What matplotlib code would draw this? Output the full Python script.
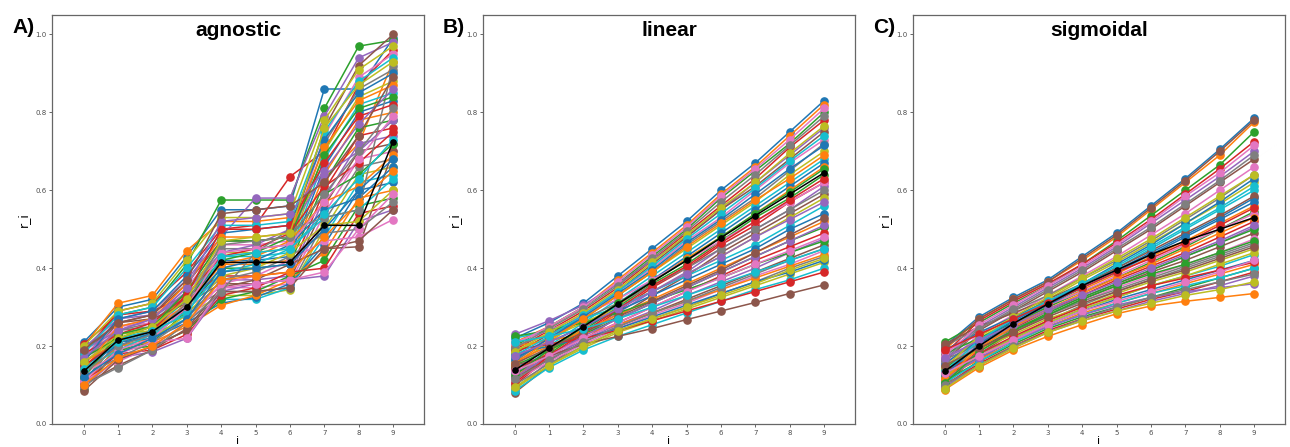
import matplotlib
matplotlib.use('Agg')
import matplotlib.pyplot as plt

steps = list(range(10))
xtick_labels = [str(i) for i in steps]
ytick_vals = [0.0, 0.2, 0.4, 0.6, 0.8, 1.0]
panel_titles = ['agnostic', 'linear', 'sigmoidal']
panel_letters = ['A)', 'B)', 'C)']

# panel A: agnostic, step-like curves
agnostic_runs = [
    [0.21, 0.30, 0.32, 0.43, 0.55, 0.55, 0.56, 0.86, 0.86, 0.99],
    [0.20, 0.31, 0.33, 0.445, 0.52, 0.52, 0.53, 0.63, 0.72, 0.93],
    [0.19, 0.28, 0.30, 0.41, 0.575, 0.575, 0.575, 0.81, 0.97, 0.985],
    [0.18, 0.29, 0.31, 0.39, 0.50, 0.51, 0.635, 0.70, 0.87, 0.96],
    [0.17, 0.27, 0.29, 0.37, 0.48, 0.58, 0.58, 0.79, 0.94, 0.98],
    [0.16, 0.26, 0.28, 0.36, 0.47, 0.47, 0.48, 0.76, 0.92, 1.00],
    [0.15, 0.25, 0.27, 0.35, 0.46, 0.46, 0.47, 0.74, 0.89, 0.95],
    [0.14, 0.24, 0.26, 0.34, 0.45, 0.45, 0.46, 0.72, 0.86, 0.91],
    [0.13, 0.23, 0.25, 0.33, 0.44, 0.44, 0.45, 0.70, 0.84, 0.88],
    [0.12, 0.22, 0.24, 0.32, 0.43, 0.43, 0.44, 0.68, 0.82, 0.85],
    [0.11, 0.21, 0.23, 0.31, 0.42, 0.42, 0.43, 0.66, 0.80, 0.83],
    [0.10, 0.20, 0.22, 0.30, 0.41, 0.41, 0.42, 0.64, 0.78, 0.80],
    [0.09, 0.19, 0.21, 0.29, 0.40, 0.40, 0.41, 0.62, 0.76, 0.78],
    [0.205, 0.28, 0.29, 0.33, 0.38, 0.38, 0.39, 0.60, 0.74, 0.76],
    [0.195, 0.27, 0.28, 0.32, 0.37, 0.37, 0.38, 0.58, 0.72, 0.74],
    [0.185, 0.26, 0.27, 0.31, 0.36, 0.36, 0.37, 0.56, 0.70, 0.72],
    [0.175, 0.25, 0.26, 0.30, 0.35, 0.35, 0.36, 0.54, 0.68, 0.70],
    [0.165, 0.24, 0.25, 0.29, 0.34, 0.34, 0.35, 0.52, 0.66, 0.68],
    [0.155, 0.23, 0.24, 0.28, 0.33, 0.33, 0.345, 0.50, 0.64, 0.66],
    [0.145, 0.22, 0.23, 0.27, 0.32, 0.32, 0.35, 0.48, 0.62, 0.64],
    [0.135, 0.21, 0.22, 0.26, 0.31, 0.325, 0.36, 0.46, 0.60, 0.62],
    [0.125, 0.20, 0.21, 0.25, 0.305, 0.33, 0.37, 0.44, 0.58, 0.60],
    [0.115, 0.19, 0.20, 0.24, 0.32, 0.34, 0.38, 0.42, 0.56, 0.58],
    [0.105, 0.18, 0.19, 0.23, 0.33, 0.35, 0.39, 0.40, 0.54, 0.56],
    [0.095, 0.17, 0.185, 0.22, 0.34, 0.36, 0.37, 0.38, 0.52, 0.55],
    [0.10, 0.15, 0.19, 0.245, 0.35, 0.37, 0.41, 0.45, 0.455, 0.70],
    [0.11, 0.16, 0.20, 0.26, 0.36, 0.38, 0.42, 0.47, 0.48, 0.525],
    [0.12, 0.17, 0.21, 0.27, 0.37, 0.39, 0.43, 0.49, 0.50, 0.57],
    [0.13, 0.18, 0.22, 0.28, 0.38, 0.40, 0.44, 0.51, 0.52, 0.60],
    [0.14, 0.19, 0.23, 0.29, 0.39, 0.41, 0.45, 0.53, 0.55, 0.63],
    [0.15, 0.20, 0.235, 0.30, 0.40, 0.42, 0.46, 0.55, 0.58, 0.66],
    [0.16, 0.21, 0.24, 0.31, 0.41, 0.43, 0.47, 0.57, 0.61, 0.69],
    [0.17, 0.22, 0.25, 0.32, 0.42, 0.44, 0.48, 0.59, 0.64, 0.72],
    [0.18, 0.23, 0.26, 0.33, 0.43, 0.45, 0.49, 0.61, 0.67, 0.75],
    [0.19, 0.24, 0.27, 0.34, 0.44, 0.46, 0.50, 0.64, 0.70, 0.78],
    [0.085, 0.165, 0.20, 0.24, 0.34, 0.34, 0.35, 0.45, 0.47, 0.55],
    [0.13, 0.18, 0.21, 0.22, 0.35, 0.36, 0.37, 0.39, 0.50, 0.59],
    [0.10, 0.145, 0.19, 0.26, 0.34, 0.44, 0.50, 0.53, 0.55, 0.92],
    [0.20, 0.29, 0.31, 0.42, 0.53, 0.53, 0.54, 0.78, 0.91, 0.97],
    [0.18, 0.28, 0.30, 0.40, 0.51, 0.51, 0.52, 0.75, 0.88, 0.94],
    [0.16, 0.27, 0.29, 0.38, 0.49, 0.50, 0.51, 0.73, 0.85, 0.90],
    [0.14, 0.25, 0.27, 0.36, 0.48, 0.48, 0.49, 0.71, 0.83, 0.87],
    [0.12, 0.23, 0.25, 0.34, 0.47, 0.47, 0.48, 0.69, 0.81, 0.84],
    [0.15, 0.21, 0.24, 0.33, 0.50, 0.50, 0.51, 0.67, 0.79, 0.82],
    [0.17, 0.24, 0.27, 0.35, 0.52, 0.53, 0.54, 0.65, 0.77, 0.86],
    [0.19, 0.26, 0.28, 0.37, 0.54, 0.55, 0.56, 0.62, 0.74, 0.89],
    [0.11, 0.19, 0.22, 0.30, 0.44, 0.45, 0.46, 0.57, 0.68, 0.79],
    [0.13, 0.20, 0.23, 0.31, 0.46, 0.47, 0.48, 0.59, 0.70, 0.81],
    [0.16, 0.22, 0.25, 0.32, 0.47, 0.48, 0.49, 0.76, 0.87, 0.93],
    [0.14, 0.21, 0.24, 0.28, 0.43, 0.44, 0.45, 0.54, 0.63, 0.73],
    [0.12, 0.18, 0.22, 0.27, 0.39, 0.40, 0.41, 0.50, 0.60, 0.68],
    [0.10, 0.17, 0.20, 0.26, 0.37, 0.38, 0.39, 0.48, 0.57, 0.65],
]
agnostic_mean = [0.135, 0.215, 0.237, 0.30, 0.415, 0.415, 0.415, 0.51, 0.51, 0.725]

# panel B: linear
linear_runs = [
    [0.22, 0.26, 0.31, 0.38, 0.45, 0.52, 0.60, 0.67, 0.75, 0.83],
    [0.21, 0.25, 0.30, 0.37, 0.44, 0.51, 0.59, 0.66, 0.74, 0.82],
    [0.20, 0.25, 0.30, 0.36, 0.43, 0.50, 0.58, 0.65, 0.72, 0.80],
    [0.19, 0.24, 0.29, 0.35, 0.42, 0.49, 0.56, 0.63, 0.71, 0.78],
    [0.23, 0.265, 0.305, 0.36, 0.42, 0.48, 0.55, 0.62, 0.69, 0.76],
    [0.18, 0.23, 0.28, 0.34, 0.41, 0.48, 0.55, 0.61, 0.68, 0.75],
    [0.17, 0.22, 0.28, 0.34, 0.40, 0.47, 0.53, 0.60, 0.67, 0.73],
    [0.16, 0.22, 0.27, 0.33, 0.39, 0.46, 0.52, 0.58, 0.65, 0.72],
    [0.15, 0.21, 0.27, 0.33, 0.39, 0.45, 0.51, 0.57, 0.64, 0.70],
    [0.14, 0.20, 0.26, 0.32, 0.38, 0.44, 0.50, 0.56, 0.62, 0.68],
    [0.13, 0.19, 0.25, 0.31, 0.37, 0.43, 0.49, 0.55, 0.61, 0.67],
    [0.12, 0.185, 0.245, 0.305, 0.365, 0.425, 0.48, 0.54, 0.60, 0.66],
    [0.11, 0.18, 0.24, 0.30, 0.36, 0.41, 0.47, 0.53, 0.58, 0.64],
    [0.10, 0.17, 0.23, 0.29, 0.35, 0.40, 0.46, 0.51, 0.57, 0.62],
    [0.09, 0.16, 0.225, 0.285, 0.34, 0.39, 0.45, 0.50, 0.55, 0.61],
    [0.08, 0.15, 0.215, 0.275, 0.33, 0.38, 0.44, 0.49, 0.54, 0.59],
    [0.21, 0.24, 0.28, 0.32, 0.37, 0.42, 0.47, 0.52, 0.57, 0.62],
    [0.20, 0.23, 0.27, 0.31, 0.355, 0.40, 0.45, 0.50, 0.55, 0.60],
    [0.19, 0.22, 0.26, 0.30, 0.34, 0.385, 0.43, 0.48, 0.53, 0.58],
    [0.22, 0.24, 0.27, 0.30, 0.34, 0.38, 0.42, 0.46, 0.51, 0.56],
    [0.17, 0.21, 0.25, 0.29, 0.33, 0.37, 0.41, 0.45, 0.50, 0.54],
    [0.16, 0.20, 0.24, 0.28, 0.32, 0.36, 0.40, 0.44, 0.48, 0.52],
    [0.15, 0.19, 0.23, 0.27, 0.31, 0.35, 0.39, 0.43, 0.47, 0.505],
    [0.14, 0.18, 0.22, 0.26, 0.30, 0.34, 0.38, 0.42, 0.455, 0.49],
    [0.13, 0.17, 0.215, 0.255, 0.29, 0.33, 0.365, 0.40, 0.44, 0.475],
    [0.12, 0.165, 0.21, 0.25, 0.285, 0.32, 0.355, 0.39, 0.425, 0.46],
    [0.11, 0.16, 0.205, 0.245, 0.28, 0.31, 0.345, 0.38, 0.41, 0.445],
    [0.10, 0.155, 0.20, 0.24, 0.27, 0.30, 0.335, 0.365, 0.40, 0.43],
    [0.09, 0.15, 0.195, 0.235, 0.265, 0.295, 0.325, 0.355, 0.385, 0.415],
    [0.085, 0.145, 0.19, 0.225, 0.255, 0.285, 0.315, 0.345, 0.37, 0.40],
    [0.18, 0.20, 0.22, 0.245, 0.275, 0.305, 0.335, 0.365, 0.39, 0.42],
    [0.20, 0.215, 0.23, 0.255, 0.285, 0.315, 0.345, 0.375, 0.405, 0.435],
    [0.225, 0.24, 0.26, 0.285, 0.315, 0.345, 0.375, 0.41, 0.44, 0.47],
    [0.19, 0.205, 0.22, 0.24, 0.265, 0.29, 0.315, 0.34, 0.365, 0.39],
    [0.12, 0.175, 0.225, 0.27, 0.31, 0.35, 0.39, 0.43, 0.47, 0.51],
    [0.15, 0.175, 0.205, 0.225, 0.245, 0.268, 0.29, 0.312, 0.335, 0.357],
    [0.205, 0.25, 0.30, 0.365, 0.435, 0.505, 0.585, 0.655, 0.73, 0.81],
    [0.195, 0.245, 0.295, 0.355, 0.425, 0.495, 0.57, 0.64, 0.715, 0.79],
    [0.185, 0.235, 0.285, 0.345, 0.415, 0.485, 0.555, 0.62, 0.695, 0.765],
    [0.175, 0.225, 0.28, 0.34, 0.405, 0.475, 0.54, 0.605, 0.675, 0.74],
    [0.165, 0.22, 0.275, 0.335, 0.395, 0.465, 0.525, 0.59, 0.655, 0.715],
    [0.155, 0.215, 0.27, 0.33, 0.39, 0.455, 0.515, 0.575, 0.63, 0.69],
    [0.125, 0.19, 0.25, 0.31, 0.365, 0.42, 0.48, 0.54, 0.595, 0.655],
    [0.105, 0.175, 0.235, 0.295, 0.355, 0.405, 0.465, 0.52, 0.575, 0.63],
    [0.175, 0.21, 0.25, 0.295, 0.34, 0.385, 0.43, 0.48, 0.525, 0.57],
    [0.155, 0.195, 0.235, 0.275, 0.315, 0.355, 0.395, 0.44, 0.485, 0.53],
    [0.135, 0.175, 0.22, 0.26, 0.30, 0.34, 0.375, 0.41, 0.445, 0.48],
    [0.115, 0.165, 0.21, 0.25, 0.285, 0.315, 0.35, 0.385, 0.42, 0.45],
    [0.095, 0.15, 0.20, 0.24, 0.27, 0.30, 0.33, 0.36, 0.395, 0.425],
    [0.21, 0.225, 0.245, 0.27, 0.30, 0.33, 0.36, 0.39, 0.42, 0.45],
]
linear_mean = [0.138, 0.195, 0.25, 0.308, 0.365, 0.42, 0.478, 0.535, 0.59, 0.645]

# panel C: sigmoidal
sigmoidal_runs = [
    [0.20, 0.275, 0.325, 0.37, 0.43, 0.49, 0.56, 0.63, 0.705, 0.785],
    [0.19, 0.27, 0.32, 0.365, 0.42, 0.48, 0.55, 0.62, 0.69, 0.775],
    [0.21, 0.26, 0.31, 0.355, 0.41, 0.47, 0.535, 0.60, 0.665, 0.75],
    [0.18, 0.265, 0.315, 0.36, 0.41, 0.465, 0.525, 0.59, 0.655, 0.725],
    [0.17, 0.25, 0.30, 0.35, 0.40, 0.455, 0.515, 0.575, 0.635, 0.70],
    [0.16, 0.24, 0.29, 0.34, 0.39, 0.445, 0.50, 0.56, 0.62, 0.68],
    [0.15, 0.23, 0.28, 0.33, 0.38, 0.43, 0.485, 0.54, 0.60, 0.66],
    [0.20, 0.245, 0.29, 0.33, 0.375, 0.42, 0.47, 0.525, 0.58, 0.64],
    [0.14, 0.22, 0.27, 0.32, 0.37, 0.415, 0.465, 0.515, 0.565, 0.62],
    [0.13, 0.21, 0.265, 0.31, 0.355, 0.40, 0.45, 0.50, 0.55, 0.60],
    [0.19, 0.235, 0.275, 0.315, 0.355, 0.395, 0.44, 0.485, 0.53, 0.58],
    [0.12, 0.20, 0.255, 0.30, 0.345, 0.385, 0.43, 0.47, 0.515, 0.56],
    [0.18, 0.22, 0.26, 0.30, 0.34, 0.375, 0.415, 0.455, 0.50, 0.545],
    [0.11, 0.19, 0.245, 0.29, 0.33, 0.37, 0.405, 0.44, 0.48, 0.52],
    [0.17, 0.21, 0.25, 0.29, 0.325, 0.36, 0.395, 0.43, 0.465, 0.505],
    [0.10, 0.18, 0.235, 0.28, 0.32, 0.355, 0.39, 0.42, 0.455, 0.49],
    [0.16, 0.20, 0.24, 0.28, 0.315, 0.35, 0.38, 0.41, 0.44, 0.475],
    [0.09, 0.165, 0.22, 0.265, 0.305, 0.34, 0.37, 0.40, 0.43, 0.46],
    [0.15, 0.19, 0.23, 0.27, 0.30, 0.335, 0.365, 0.39, 0.42, 0.45],
    [0.14, 0.18, 0.22, 0.26, 0.295, 0.325, 0.355, 0.38, 0.405, 0.435],
    [0.13, 0.17, 0.215, 0.255, 0.29, 0.32, 0.345, 0.37, 0.395, 0.42],
    [0.12, 0.165, 0.21, 0.25, 0.285, 0.31, 0.335, 0.36, 0.385, 0.41],
    [0.11, 0.16, 0.205, 0.245, 0.275, 0.30, 0.325, 0.35, 0.375, 0.40],
    [0.10, 0.155, 0.20, 0.24, 0.27, 0.295, 0.32, 0.34, 0.365, 0.39],
    [0.095, 0.15, 0.195, 0.235, 0.265, 0.29, 0.315, 0.335, 0.355, 0.38],
    [0.205, 0.25, 0.285, 0.32, 0.36, 0.40, 0.445, 0.49, 0.535, 0.585],
    [0.185, 0.23, 0.27, 0.305, 0.34, 0.38, 0.42, 0.46, 0.50, 0.54],
    [0.165, 0.205, 0.245, 0.28, 0.315, 0.345, 0.375, 0.405, 0.435, 0.465],
    [0.125, 0.175, 0.22, 0.26, 0.295, 0.325, 0.355, 0.38, 0.41, 0.44],
    [0.105, 0.16, 0.21, 0.25, 0.28, 0.31, 0.335, 0.355, 0.375, 0.40],
    [0.155, 0.215, 0.265, 0.31, 0.36, 0.41, 0.46, 0.515, 0.57, 0.63],
    [0.088, 0.145, 0.19, 0.225, 0.255, 0.283, 0.303, 0.315, 0.325, 0.335],
    [0.145, 0.195, 0.24, 0.28, 0.32, 0.355, 0.385, 0.41, 0.44, 0.47],
    [0.135, 0.18, 0.225, 0.265, 0.30, 0.33, 0.355, 0.375, 0.395, 0.415],
    [0.115, 0.17, 0.215, 0.25, 0.28, 0.305, 0.325, 0.34, 0.35, 0.36],
    [0.195, 0.27, 0.32, 0.365, 0.425, 0.485, 0.555, 0.625, 0.70, 0.78],
    [0.175, 0.255, 0.305, 0.355, 0.405, 0.46, 0.52, 0.585, 0.645, 0.715],
    [0.165, 0.245, 0.295, 0.345, 0.395, 0.45, 0.505, 0.565, 0.625, 0.69],
    [0.145, 0.225, 0.275, 0.325, 0.375, 0.425, 0.475, 0.53, 0.585, 0.64],
    [0.135, 0.215, 0.27, 0.315, 0.36, 0.405, 0.455, 0.505, 0.555, 0.61],
    [0.125, 0.205, 0.26, 0.305, 0.35, 0.39, 0.435, 0.48, 0.525, 0.57],
    [0.115, 0.195, 0.25, 0.295, 0.335, 0.375, 0.41, 0.45, 0.49, 0.53],
    [0.105, 0.185, 0.24, 0.285, 0.325, 0.36, 0.395, 0.43, 0.465, 0.50],
    [0.19, 0.23, 0.27, 0.31, 0.35, 0.39, 0.425, 0.465, 0.51, 0.555],
    [0.17, 0.215, 0.255, 0.295, 0.33, 0.365, 0.40, 0.435, 0.47, 0.51],
    [0.15, 0.195, 0.235, 0.275, 0.31, 0.34, 0.37, 0.395, 0.425, 0.455],
    [0.13, 0.175, 0.215, 0.255, 0.29, 0.315, 0.34, 0.365, 0.39, 0.42],
    [0.10, 0.15, 0.20, 0.235, 0.27, 0.30, 0.325, 0.345, 0.365, 0.385],
    [0.09, 0.15, 0.195, 0.235, 0.265, 0.29, 0.31, 0.33, 0.345, 0.365],
]
sigmoidal_mean = [0.135, 0.20, 0.258, 0.308, 0.355, 0.395, 0.435, 0.47, 0.50, 0.53]

all_runs = [agnostic_runs, linear_runs, sigmoidal_runs]
all_means = [agnostic_mean, linear_mean, sigmoidal_mean]

fig = plt.figure(figsize=(12.9, 4.47), dpi=100)
lefts = [52 / 1290, 483 / 1290, 913 / 1290]
for k in range(3):
    ax = fig.add_axes([lefts[k], 23 / 447, 372 / 1290, 409 / 447])
    for run in all_runs[k]:
        ax.plot(steps, run, '-o', lw=1.1, ms=5.2)
    ax.plot(steps, all_means[k], '-o', color='black', lw=1.1, ms=3.8, zorder=5)
    ax.set_xlim(-0.92, 9.9)
    ax.set_ylim(0, 1.05)
    ax.set_xticks(steps)
    ax.set_xticklabels(xtick_labels)
    ax.set_yticks(ytick_vals)
    ax.tick_params(labelsize=5, length=2, width=0.6, pad=2, colors='0.3')
    for sp in ax.spines.values():
        sp.set_color('0.4')
        sp.set_linewidth(0.9)
    ax.set_xlabel('i', fontsize=8, labelpad=0)
    ax.set_ylabel('r_i', fontsize=9, labelpad=4)
    ax.text(0.5, 0.985, panel_titles[k], transform=ax.transAxes, ha='center', va='top',
            fontsize=15, fontweight='bold', family='Liberation Sans')
    fig.text(lefts[k] - 40 / 1290, 1 - 33 / 447, panel_letters[k], fontsize=15,
             fontweight='bold', family='Liberation Sans', va='baseline')

fig.savefig('out.png', dpi=100)
